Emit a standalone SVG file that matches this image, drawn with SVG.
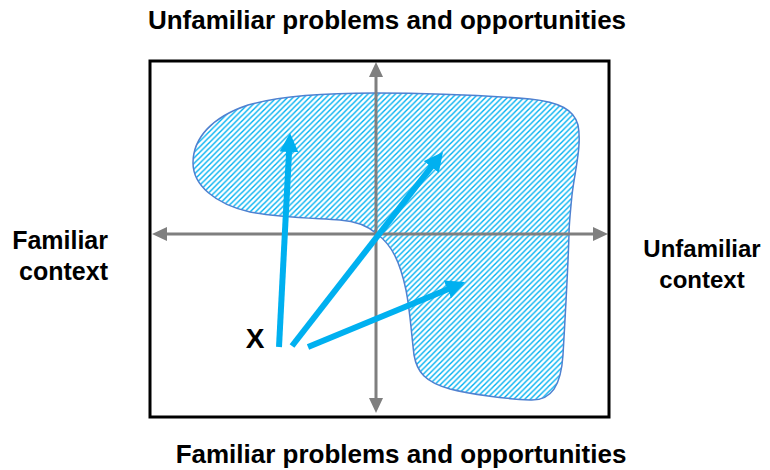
<svg xmlns="http://www.w3.org/2000/svg" width="770" height="470" viewBox="0 0 770 470">
  <style>
    .lbl { font-family: "Liberation Sans", Arial, sans-serif; font-weight: bold; fill: #000; }
    .axis { stroke: #7F7F7F; stroke-width: 3; fill: none; }
    .arrow { stroke: #00B0F0; stroke-width: 6; fill: none; }
  </style>
  <defs>
    <pattern id="hatch" patternUnits="userSpaceOnUse" width="5.5" height="5.5">
      <path d="M-1,1 L1,-1 M0,5.5 L5.5,0 M4.5,6.5 L6.5,4.5" stroke="#00B0F0" stroke-width="1.4"/>
    </pattern>
    <marker id="grayHead" markerUnits="userSpaceOnUse" markerWidth="15" markerHeight="14" refX="5" refY="7" orient="auto-start-reverse">
      <path d="M0,0 L15,7 L0,14 z" fill="#7F7F7F"/>
    </marker>
    <marker id="blueHead" markerUnits="userSpaceOnUse" markerWidth="19" markerHeight="19" refX="5" refY="9.5" orient="auto">
      <path d="M0,0 L19,9.5 L0,19 z" fill="#00B0F0"/>
    </marker>
  </defs>

  <g id="region">
    <path d="M377,234 C368,226 355,221 340,220 C310,218 275,217 250,212 C215,204 193,185 193,163 C193,138 212,117 248,105 C283,95 330,93 375,93 C420,93 480,95 530,99 C560,102 574,110 578,125 C582,145 575,170 572,195 C570,215 569,225 569,234 C568,270 565,320 563,355 C561,385 552,401 530,400 C505,399 470,394 450,389 C425,382 417,372 414,355 C411,330 410,310 406,290 C400,262 392,245 377,234 Z" fill="url(#hatch)" stroke="#4F81D0" stroke-width="1.5"/>
  </g>

  <g id="axes">
    <line class="axis" x1="376" y1="72" x2="376" y2="403" marker-start="url(#grayHead)" marker-end="url(#grayHead)"/>
    <line class="axis" x1="162" y1="234" x2="598" y2="234" marker-start="url(#grayHead)" marker-end="url(#grayHead)"/>
  </g>

  <g id="connectors">
    <line class="arrow" x1="279" y1="347" x2="289.3" y2="147" marker-end="url(#blueHead)"/>
    <line class="arrow" x1="292" y1="346" x2="434.4" y2="163" marker-end="url(#blueHead)"/>
    <line class="arrow" x1="308" y1="347" x2="452.1" y2="287.4" marker-end="url(#blueHead)"/>
  </g>

  <g id="frame">
    <rect x="150" y="61" width="459" height="356" fill="none" stroke="#000" stroke-width="3"/>
  </g>

  <g id="label-top">
    <text class="lbl" x="387" y="29" font-size="26" text-anchor="middle">Unfamiliar problems and opportunities</text>
  </g>
  <g id="label-bottom">
    <text class="lbl" x="401" y="463" font-size="26" text-anchor="middle">Familiar problems and opportunities</text>
  </g>
  <g id="label-left">
    <text class="lbl" font-size="25" text-anchor="end"><tspan x="108" y="249">Familiar</tspan><tspan x="108" y="280">context</tspan></text>
  </g>
  <g id="label-right">
    <text class="lbl" font-size="24" text-anchor="middle"><tspan x="702" y="257">Unfamiliar</tspan><tspan x="702" y="288">context</tspan></text>
  </g>
  <g id="node-x">
    <text class="lbl" x="255" y="348" font-size="28" text-anchor="middle">X</text>
  </g>
</svg>
